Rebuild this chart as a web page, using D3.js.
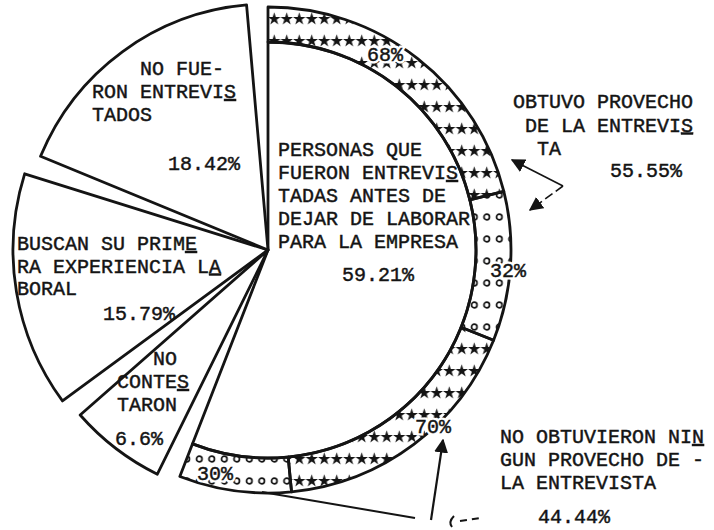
<!DOCTYPE html>
<html lang="es">
<head>
<meta charset="utf-8">
<title>Personas entrevistadas antes de dejar la empresa</title>
<script src="https://d3js.org/d3.v7.min.js"></script>
<style>
  body { margin: 0; background: #fff; }
  text { font-family: "Liberation Mono", "DejaVu Sans Mono", monospace; font-size: 20px; fill: #141414; white-space: pre; }
  text.typed { stroke: #141414; stroke-width: 0.45; }
  text.halo { fill: #fff; stroke: #fff; stroke-width: 5; }
</style>
</head>
<body>
<script>
// slices of the pie, clockwise from 12 o'clock
const categories = [
  "PERSONAS QUE FUERON ENTREVISTADAS ANTES DE DEJAR DE LABORAR PARA LA EMPRESA",
  "NO CONTESTARON",
  "BUSCAN SU PRIMERA EXPERIENCIA LABORAL",
  "NO FUERON ENTREVISTADOS"
];
const values = [59.21, 6.6, 15.79, 18.42];

// the typed lines of each label (a trailing "_" underlines the last letter, as the typist did)
const labelLines = [
  ["PERSONAS QUE", "FUERON ENTREVIS_", "TADAS ANTES DE", "DEJAR DE LABORAR", "PARA LA EMPRESA"],
  ["   NO", "CONTES_", "TARON"],
  ["BUSCAN SU PRIME_", "RA EXPERIENCIA LA_", "BORAL"],
  ["    NO FUE-", "RON ENTREVIS_", "TADOS"]
];

// ring around the first slice: what the interview gave
const groups = ["OBTUVO PROVECHO DE LA ENTREVISTA", "NO OBTUVIERON NINGUN PROVECHO DE LA ENTREVISTA"];
const groupValues = [55.55, 44.44];
const groupLines = [
  ["OBTUVO PROVECHO", " DE LA ENTREVIS_", "  TA"],
  ["NO OBTUVIERON NIN_", "GUN PROVECHO DE -", "LA ENTREVISTA"]
];
const ringValues = [[68, 32], [70, 30]];
const ringPatterns = ["stars", "circles"];

// ---- layout ----
const W = 714, H = 530;
const cx = 268, cy = 250;
const rMain = 208, rRing = 243;
const rSlice = [rMain, 250, 255, 246];
const pad = 5 * Math.PI / 180;
const lh = 23;

const labelPos = [
  { x: 278, y: 156, px: 342, py: 281 },
  { x: 117, y: 365, px: 115, py: 445 },
  { x: 17,  y: 250, px: 103, py: 320, lh: 22.5 },
  { x: 92,  y: 75,  px: 168, py: 170 }
];
const groupPos = [
  { x: 513, y: 108, px: 610, py: 177, lh: 23.5 },
  { x: 500, y: 443, px: 538, py: 523 }
];
const ringLabelPos = [[[367, 61], [490, 277]], [[415, 433], [197, 480]]];

const svg = d3.select("body").append("svg")
    .attr("width", W)
    .attr("height", H)
    .style("background", "#fff");

const defs = svg.append("defs");

const stars = defs.append("pattern")
    .attr("id", "stars")
    .attr("patternUnits", "userSpaceOnUse")
    .attr("width", 12.5)
    .attr("height", 22);
stars.append("path")
    .attr("transform", "translate(6.25,11)")
    .attr("d", d3.symbol(d3.symbolStar, 52)())
    .attr("fill", "#141414");

const circles = defs.append("pattern")
    .attr("id", "circles")
    .attr("patternUnits", "userSpaceOnUse")
    .attr("width", 12.5)
    .attr("height", 22);
circles.append("circle")
    .attr("cx", 6.25)
    .attr("cy", 11)
    .attr("r", 2.8)
    .attr("fill", "none")
    .attr("stroke", "#141414")
    .attr("stroke-width", 1.7);

defs.append("marker")
    .attr("id", "head")
    .attr("viewBox", "0 0 10 10")
    .attr("refX", 9)
    .attr("refY", 5)
    .attr("markerWidth", 14)
    .attr("markerHeight", 14)
    .attr("markerUnits", "userSpaceOnUse")
    .attr("orient", "auto-start-reverse")
  .append("path")
    .attr("d", "M0,0L10,5L0,10Z")
    .attr("fill", "#141414");

const pie = d3.pie()
    .sort(null)
    .padAngle(pad)
    .startAngle(-pad / 2)
    .endAngle(2 * Math.PI - pad / 2);

const slices = pie(values).map((d, i) => ({
  startAngle: d.startAngle + pad / 2,
  endAngle: d.endAngle - pad / 2,
  r: rSlice[i],
  i: i
}));

const g = svg.append("g").attr("transform", `translate(${cx},${cy})`);

g.selectAll("path.slice")
  .data(slices)
  .join("path")
    .attr("class", "slice")
    .attr("d", d => d3.arc().innerRadius(0).outerRadius(d.r)(d))
    .attr("fill", "#fff")
    .attr("stroke", "#141414")
    .attr("stroke-width", 2.8)
    .attr("stroke-linejoin", "round");

// ring over the interviewed slice
const main = slices[0];
const groupArcs = d3.pie().sort(null)
    .startAngle(main.startAngle)
    .endAngle(main.endAngle)(groupValues);

const ring = [];
groupArcs.forEach((ga, gi) => {
  d3.pie().sort(null)
      .startAngle(ga.startAngle)
      .endAngle(ga.endAngle)(ringValues[gi])
      .forEach((d, k) => ring.push({ startAngle: d.startAngle, endAngle: d.endAngle, value: d.value, gi: gi, k: k }));
});

const ringArc = d3.arc().innerRadius(rMain).outerRadius(rRing);

g.selectAll("path.ring")
  .data(ring)
  .join("path")
    .attr("class", "ring")
    .attr("d", ringArc)
    .attr("fill", d => `url(#${ringPatterns[d.k]})`)
    .attr("stroke", "#141414")
    .attr("stroke-width", 2.8)
    .attr("stroke-linejoin", "round");

// typed text
function typed(lines, x, y, step) {
  const t = svg.append("text").attr("class", "typed");
  lines.forEach((s, i) => {
    const under = s.endsWith("_");
    const body = under ? s.slice(0, -1) : s;
    const row = t.append("tspan").attr("x", x).attr("y", y + i * step);
    if (under) {
      row.append("tspan").text(body.slice(0, -1));
      row.append("tspan").style("text-decoration", "underline").text(body.slice(-1));
    } else {
      row.text(body);
    }
  });
  return t;
}

labelLines.forEach((lines, i) => {
  const p = labelPos[i];
  typed(lines, p.x, p.y, p.lh || lh);
  svg.append("text").attr("class", "typed").attr("x", p.px).attr("y", p.py).text(values[i] + "%");
});

groupLines.forEach((lines, i) => {
  const p = groupPos[i];
  typed(lines, p.x, p.y, p.lh || lh);
  svg.append("text").attr("class", "typed").attr("x", p.px).attr("y", p.py).text(groupValues[i] + "%");
});

ring.forEach(d => {
  const [x, y] = ringLabelPos[d.gi][d.k];
  svg.append("text").attr("class", "halo").attr("x", x).attr("y", y).text(d.value + "%");
  svg.append("text").attr("class", "typed").attr("x", x).attr("y", y).text(d.value + "%");
});

// bracket arrows to the group labels
const ink = svg.append("g")
    .attr("fill", "none")
    .attr("stroke", "#141414")
    .attr("stroke-width", 1.6);

ink.append("path")
    .attr("d", d3.line()([[563, 186], [512, 160]]))
    .attr("marker-end", "url(#head)");
ink.append("path")
    .attr("d", d3.line()([[563, 186], [530, 210]]))
    .attr("stroke-dasharray", "9,4")
    .attr("marker-end", "url(#head)");

ink.append("path")
    .attr("d", d3.line()([[431, 520], [443, 440]]))
    .attr("stroke-width", 2.2)
    .attr("marker-end", "url(#head)");
ink.append("path")
    .attr("d", d3.line()([[262, 492], [415, 518]]))
    .attr("stroke-width", 2);
ink.append("path")
    .attr("d", "M452,527 Q448,522 454,516")
    .attr("stroke-width", 2);
ink.append("path")
    .attr("d", d3.line()([[460, 521], [480, 518]]))
    .attr("stroke-dasharray", "7,5")
    .attr("stroke-width", 2);
</script>
</body>
</html>
